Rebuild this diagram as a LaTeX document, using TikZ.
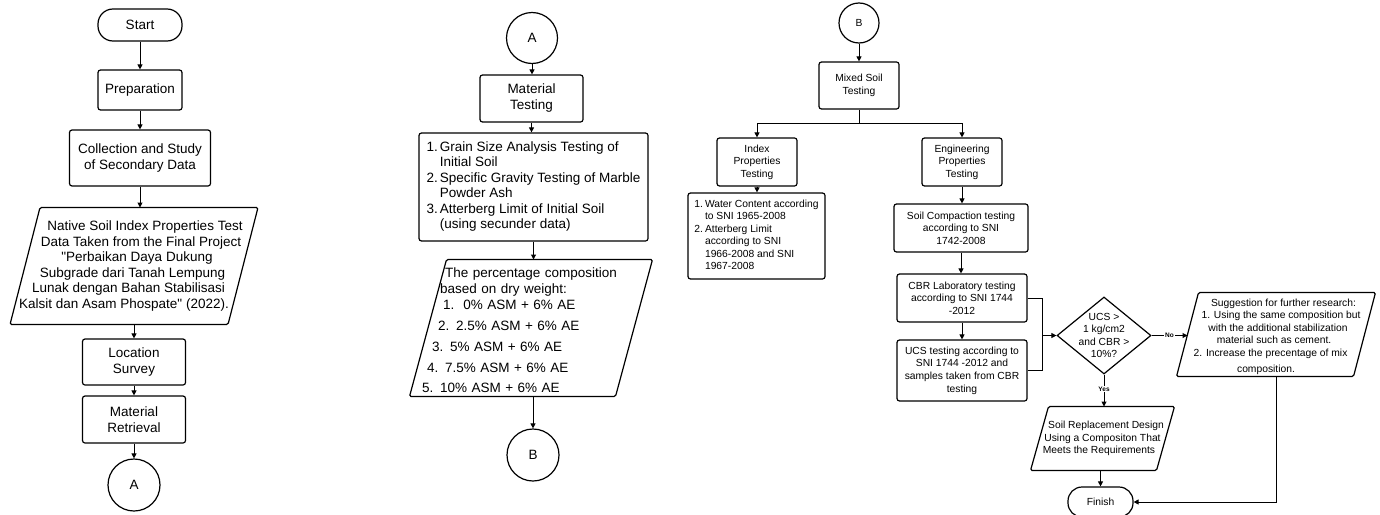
\documentclass[tikz,border=0pt]{standalone}
\usepackage{fontspec}
\setmainfont{Liberation Sans}[Ligatures=TeXOff]
\usetikzlibrary{arrows.meta,shapes.geometric}

\newcommand{\bigtxt}{\fontsize{13.5}{16}\selectfont}
\newcommand{\smtxt}{\fontsize{10.3}{12.6}\selectfont}
\newcommand{\sh}[1]{\hspace*{#1}}

\begin{document}
\begin{tikzpicture}[x=1pt, y=-1pt, line width=1pt,
    every node/.style={font=\bigtxt, align=center, inner sep=2pt},
    box/.style={draw, rectangle, rounded corners=2.5pt, line width=1.2pt},
    term/.style={draw, rectangle, rounded corners=15pt, line width=1.2pt},
    conn/.style={draw, circle, inner sep=0pt, line width=1.2pt},
    para/.style={inner sep=0pt, append after command={\pgfextra{
      \draw[rounded corners=1.5pt, line width=1.2pt]
        ([xshift=-#1/2]\tikzlastnode.south west) -- ([xshift=#1/2]\tikzlastnode.north west)
        -- ([xshift=#1/2]\tikzlastnode.north east) -- ([xshift=-#1/2]\tikzlastnode.south east) -- cycle;}}},
    dec/.style={draw, diamond, inner sep=0pt, line width=1.2pt},
    arr/.style={-{Triangle[length=5pt,width=5pt]}},
    lbl/.style={font=\fontsize{6.5}{7}\selectfont\bfseries, fill=white, inner sep=1pt}]

  \useasboundingbox (0,0) rectangle (1380,514);

  % Left column
  \node[term, minimum width=84pt, minimum height=32pt] (start) at (140,25) {Start};
  \node[box, minimum width=84pt, minimum height=40pt] (prep) at (140,90) {Preparation};
  \node[box, minimum width=141pt, minimum height=56pt] (coll) at (140,158) {Collection and Study\\of Secondary Data};
  \node[para=30, minimum width=217pt, minimum height=116pt] (native) at (134,266) {};
  \node[font=\fontsize{13.5}{15.6}\selectfont] (nativetxt) at (native.center)
    {\sh{22pt}Native Soil Index Properties Test\\
     \sh{14pt}Data Taken from the Final Project\\
     \sh{6pt}"Perbaikan Daya Dukung\\
     \sh{-3pt}Subgrade dari Tanah Lempung\\
     \sh{-11pt}Lunak dengan Bahan Stabilisasi\\
     \sh{-20pt}Kalsit dan Asam Phospate" (2022).};
  \node[box, minimum width=103pt, minimum height=46pt] (loc) at (134,362) {Location\\Survey};
  \node[box, minimum width=103pt, minimum height=47pt] (ret) at (134,419.5) {Material\\Retrieval};
  \node[conn, minimum size=52pt] (outa) at (134,485) {A};

  \draw[arr] (start) -- (prep);
  \draw[arr] (prep) -- (coll);
  \draw[arr] (coll.south) -- (coll.south |- native.north);
  \draw[arr] (native.south) -- (loc.north);
  \draw[arr] (loc) -- (ret);
  \draw[arr] (ret) -- (outa);

  % Middle column
  \node[conn, minimum size=51pt] (ina) at (532,38) {A};
  \node[box, minimum width=103pt, minimum height=47pt] (mtest) at (531.5,98.5) {Material\\Testing};
  \node[box, minimum width=229pt, minimum height=108pt, inner xsep=7pt] (mlist) at (533.5,187)
    {\fontsize{13.5}{15.5}\selectfont
     \begin{tabular}{@{}l@{\hspace{2pt}}l@{}}
       1. & Grain Size Analysis Testing of\\
          & Initial Soil\\
       2. & Specific Gravity Testing of Marble\\
          & Powder Ash\\
       3. & Atterberg Limit of Initial Soil\\
          & (using secunder data)
     \end{tabular}};
  \node[para=37, minimum width=205pt, minimum height=136pt] (comp) at (531,328) {};
  \node[text width=218pt, align=left] (comptxt) at (531,330)
    {\sh{23pt}The percentage composition\\
     \sh{18pt}based on dry weight:\\
     \sh{21pt}1.\ \ 0\% ASM + 6\% AE\\[5pt]
     \sh{16pt}2. 2.5\% ASM + 6\% AE\\[5pt]
     \sh{10pt}3. 5\% ASM + 6\% AE\\[5pt]
     \sh{5pt}4. 7.5\% ASM + 6\% AE\\[4pt]
     5. 10\% ASM + 6\% AE};
  \node[conn, minimum size=52pt] (outb) at (533,455) {B};

  \draw[arr] (ina) -- (ina |- mtest.north);
  \draw[arr] (mtest.south) -- (mtest.south |- mlist.north);
  \draw[arr] (mlist.south) -- (mlist.south |- comp.north);
  \draw[arr] (outb.north |- comp.south) -- (outb);

  % Right part
  \node[conn, minimum size=40pt, font=\smtxt] (inb) at (859,23) {B};
  \node[box, font=\smtxt, minimum width=80pt, minimum height=47pt] (mixed) at (859,85.5) {Mixed Soil\\Testing};
  \node[box, font=\smtxt, minimum width=80pt, minimum height=48pt] (index) at (757,162) {Index\\Properties\\Testing};
  \node[box, font=\smtxt, minimum width=80pt, minimum height=48pt] (eng) at (962,162) {Engineering\\Properties\\Testing};
  \node[box, minimum width=137pt, minimum height=86pt, inner xsep=5pt] (ilist) at (756.5,236)
    {\fontsize{10.3}{12.5}\selectfont
     \begin{tabular}{@{}l@{\hspace{2pt}}l@{}}
       1. & Water Content according\\
          & to SNI 1965-2008\\
       2. & Atterberg Limit\\
          & according to SNI\\
          & 1966-2008 and SNI\\
          & 1967-2008
     \end{tabular}};
  \node[box, font=\smtxt, minimum width=134pt, minimum height=48pt] (compact) at (961,228) {Soil Compaction testing\\according to SNI\\1742-2008};
  \node[box, font=\smtxt, minimum width=130pt, minimum height=48pt] (cbr) at (962,298) {CBR Laboratory testing\\according to SNI 1744\\-2012};
  \node[box, font=\smtxt, minimum width=130pt, minimum height=61pt] (ucs) at (962,370.5) {UCS testing according to\\SNI 1744 -2012 and\\samples taken from CBR\\testing};
  \node[dec, minimum width=94pt, minimum height=77pt] (check) at (1104,335.5) {};
  \node[font=\smtxt] (checktxt) at (check.center) {UCS >\\1 kg/cm2\\and CBR >\\10\%?};
  \node[para=22, minimum width=176pt, minimum height=83pt] (sugg) at (1276,334.5) {};
  \node[font=\smtxt] (suggtxt) at (1276,336.5)
    {\sh{15pt}Suggestion for further research:\\
     \sh{10pt}1. Using the same composition but\\
     \sh{4pt}with the additional stabilization\\
     \sh{-4pt}material such as cement.\\
     \sh{-11pt}2. Increase the precentage of mix\\[3pt]
     \sh{-20pt}composition.};
  \node[para=18, minimum width=125pt, minimum height=63pt] (repl) at (1102.5,438.5) {};
  \node[font=\smtxt] (repltxt) at (repl.center)
    {\sh{7pt}Soil Replacement Design\\
     Using a Compositon That\\
     \sh{-7pt}Meets the Requirements};
  \node[term, font=\smtxt, minimum width=65pt, minimum height=30pt, rounded corners=14pt] (finish) at (1100.5,502) {Finish};

  \draw[arr] (inb) -- (mixed);
  \draw (mixed.south) -- ++(0,14) coordinate (split);
  \draw[arr] (split) -| (index.north);
  \draw[arr] (split) -| (eng.north);
  \draw[arr] (index.south) -- (index.south |- ilist.north);
  \draw[arr] (eng.south) -- (eng.south |- compact.north);
  \draw[arr] (compact.south) -- (compact.south |- cbr.north);
  \draw[arr] (cbr) -- (ucs);
  \coordinate (merge) at ([xshift=-14pt]check.west);
  \draw (cbr.east) -| (merge);
  \draw (ucs.east) -| (merge);
  \draw[arr] (merge) -- (check.west);
  \draw[arr] (check.east) -- node[lbl, pos=0.5] {No} (check.east -| sugg.west);
  \draw[arr] (check.south) -- node[lbl, pos=0.45] {Yes} (check.south |- repl.north);
  \draw[arr] (finish.north |- repl.south) -- (finish.north);
  \draw[arr] (sugg.south) |- (finish.east);

\end{tikzpicture}
\end{document}
